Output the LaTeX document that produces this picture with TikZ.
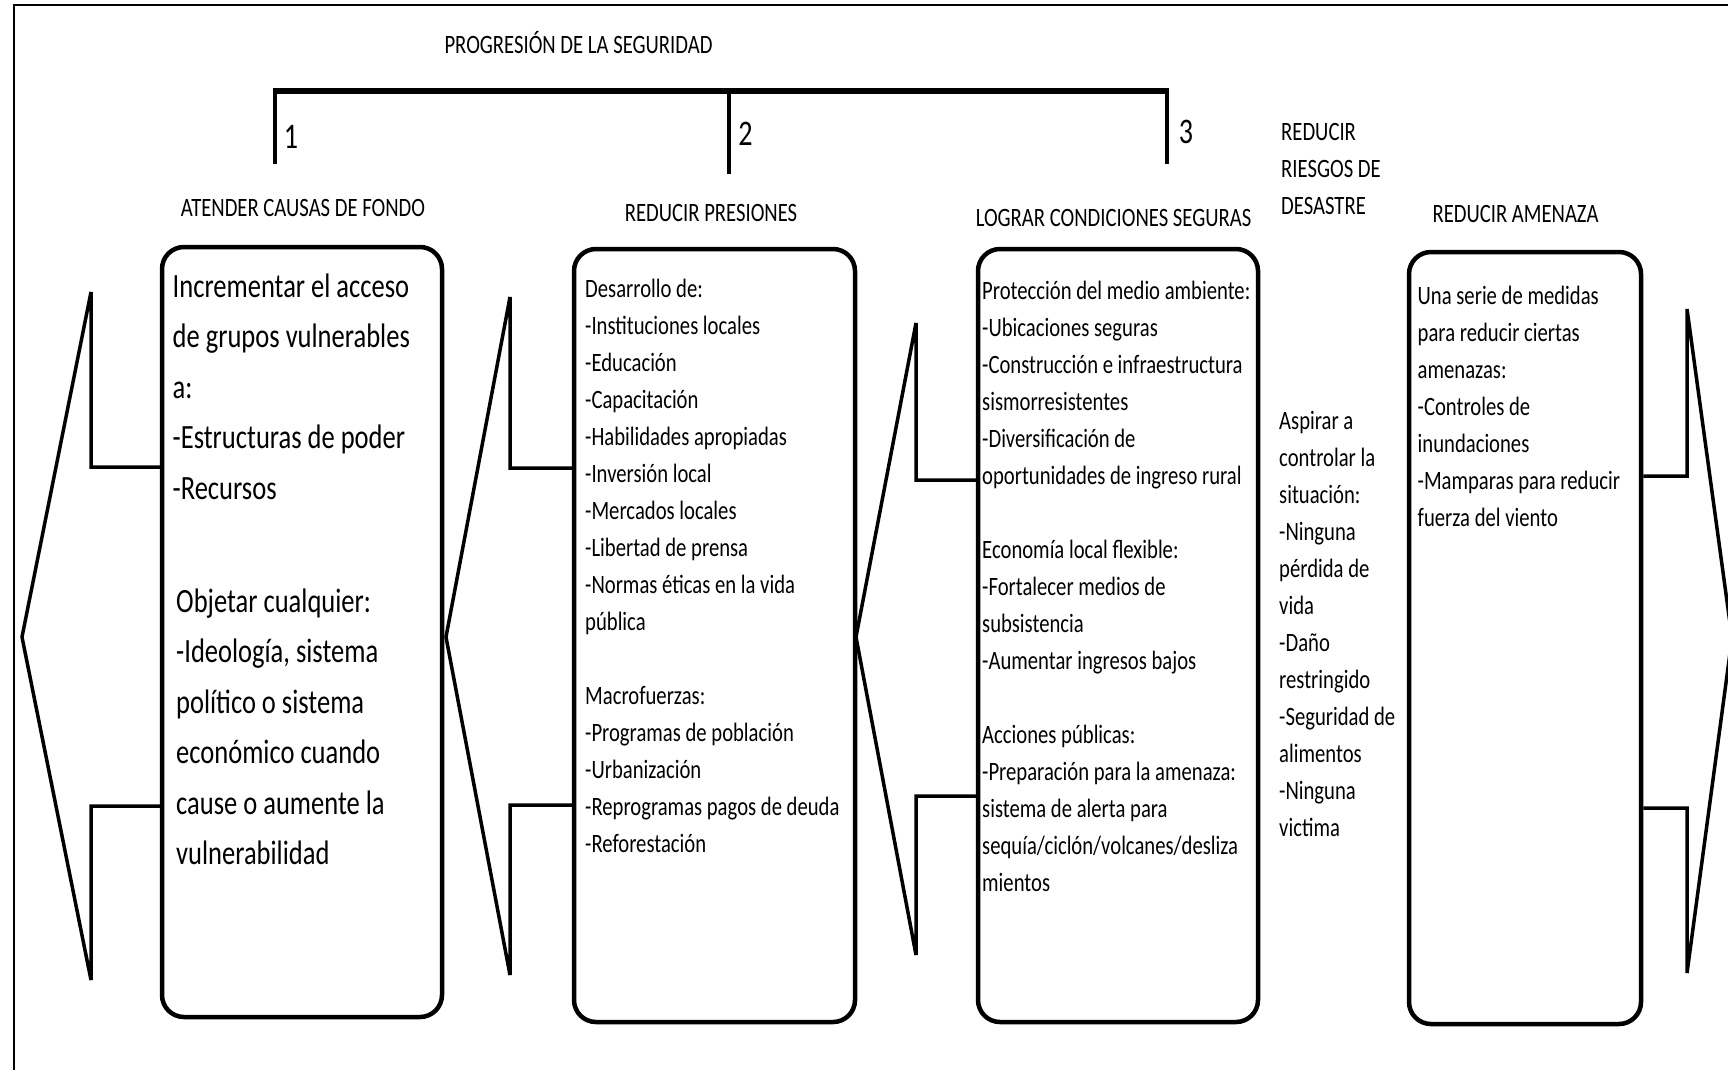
\documentclass[tikz,border=0pt]{standalone}
\usepackage{fontspec}
\setmainfont{Carlito}[FakeStretch=0.78]
\newcommand{\txtlines}[1]{\parbox[t]{420pt}{\raggedright #1}}
\begin{document}
\begin{tikzpicture}[x=1pt,y=-1pt,
  boxs/.style={draw, line width=4.5pt, rounded corners=22pt, inner sep=0pt, minimum width=#1},
  txt/.style={anchor=base west, inner sep=0pt, font=\fontsize{26.5}{37}\selectfont},
  bigtxt/.style={anchor=base west, inner sep=0pt, font=\fontsize{34}{50.5}\selectfont},
  head/.style={anchor=base, inner sep=0pt, font=\fontsize{26.5}{37}\selectfont},
  num/.style={anchor=base, inner sep=0pt, font=\fontsize{36}{40}\selectfont},
  arrowln/.style={line width=3.5pt, line join=miter},
  bracketln/.style={line width=4pt, line join=miter}]
\useasboundingbox (0,0) rectangle (1728,1069);
\fill[white] (0,0) rectangle (1728,1069);
\clip (0,0) rectangle (1728,1069);
% frame
\draw[line width=2pt] (14,1075) -- (14,5) -- (1735,5);
% title and bracket
\node[head] (t0) at (578.5,53) {PROGRESIÓN DE LA SEGURIDAD};
\draw[line width=6pt] (273,90.5) -- (1168.5,90.5);
\draw[bracketln] (275,88) -- (275,164);
\draw[bracketln] (728.5,88) -- (728.5,174);
\draw[bracketln] (1166.5,88) -- (1166.5,164);
\node[num] (n1) at (291,148) {1};
\node[num] (n2) at (745.5,145.7) {2};
\node[num] (n3) at (1186,143) {3};
% headers
\node[head] (h1) at (303,216) {ATENDER CAUSAS DE FONDO};
\node[head] (h2) at (711,221.7) {REDUCIR PRESIONES};
\node[head] (h3) at (1113.5,226) {LOGRAR CONDICIONES SEGURAS};
\node[head] (h4) at (1515.5,222.7) {REDUCIR AMENAZA};
\node[txt] (rrd) at (1281,140) {\txtlines{REDUCIR\\RIESGOS DE\\DESASTRE}};
% boxes
\node[boxs=280pt, minimum height=770pt] (b1) at (302,632) {};
\node[boxs=281pt, minimum height=773pt] (b2) at (714.5,635.5) {};
\node[boxs=280pt, minimum height=773pt] (b3) at (1118,635.5) {};
\node[boxs=232pt, minimum height=772pt] (b4) at (1525,638) {};
% arrows
\draw[arrowln] (b1.west |- 0,467) -- (91,467) -- (91,292) -- (22,637) -- (91,980) -- (91,806) -- (b1.west |- 0,806);
\draw[arrowln] (b2.west |- 0,468) -- (510,468) -- (510,297) -- (446,637) -- (510,975) -- (510,805) -- (b2.west |- 0,805);
\draw[arrowln] (b3.west |- 0,480) -- (916,480) -- (916,323) -- (856,637) -- (916,955) -- (916,796) -- (b3.west |- 0,796);
\draw[arrowln] (b4.east |- 0,476) -- (1687,476) -- (1687,309) -- (1732,638) -- (1687,973) -- (1687,808) -- (b4.east |- 0,808);
% box texts
\node[bigtxt] (x1a) at (172.5,297) {\txtlines{Incrementar el acceso\\de grupos vulnerables\\a:\\-Estructuras de poder\\-Recursos}};
\node[bigtxt] (x1b) at (176,612) {\txtlines{Objetar cualquier:\\-Ideología, sistema\\político o sistema\\económico cuando\\cause o aumente la\\vulnerabilidad}};
\node[txt] (x2) at (585,297) {\txtlines{Desarrollo de:\\-Instituciones locales\\-Educación\\-Capacitación\\-Habilidades apropiadas\\-Inversión local\\-Mercados locales\\-Libertad de prensa\\-Normas éticas en la vida\\pública\\\mbox{}\\Macrofuerzas:\\-Programas de población\\-Urbanización\\-Reprogramas pagos de deuda\\-Reforestación}};
\node[txt] (x3) at (982,299) {\txtlines{Protección del medio ambiente:\\-Ubicaciones seguras\\-Construcción e infraestructura\\sismorresistentes\\-Diversificación de\\oportunidades de ingreso rural\\\mbox{}\\Economía local flexible:\\-Fortalecer medios de\\subsistencia\\-Aumentar ingresos bajos\\\mbox{}\\Acciones públicas:\\-Preparación para la amenaza:\\sistema de alerta para\\sequía/ciclón/volcanes/desliza\\mientos}};
\node[txt] (xm) at (1279,429) {\txtlines{Aspirar a\\controlar la\\situación:\\-Ninguna\\pérdida de\\vida\\-Daño\\restringido\\-Seguridad de\\alimentos\\-Ninguna\\victima}};
\node[txt] (x4) at (1417.5,304) {\txtlines{Una serie de medidas\\para reducir ciertas\\amenazas:\\-Controles de\\inundaciones\\-Mamparas para reducir\\fuerza del viento}};
\end{tikzpicture}
\end{document}
